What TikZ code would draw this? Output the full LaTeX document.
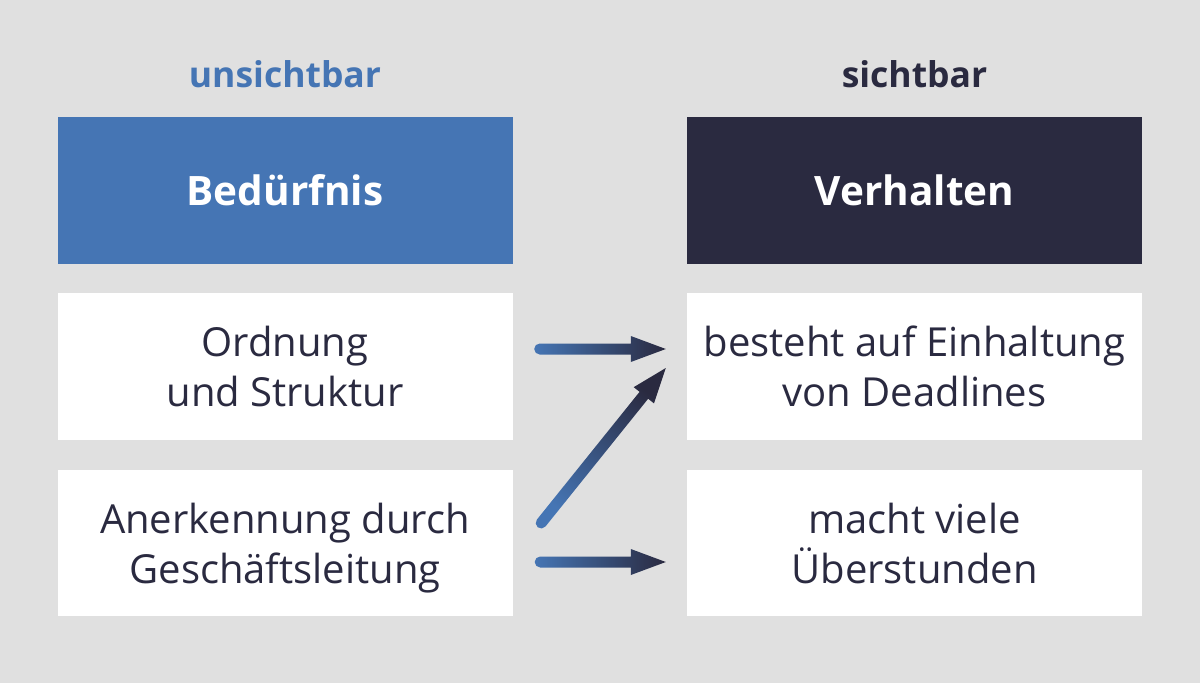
\documentclass[tikz,border=0pt]{standalone}
\usepackage{fontspec}
\setmainfont{Open Sans}
\usetikzlibrary{calc}
\definecolor{bg}{HTML}{E0E0E0}
\definecolor{ablue}{HTML}{4575B4}
\definecolor{anavy}{HTML}{2A2A40}
\tikzset{
  cellbox/.style={minimum width=455pt, minimum height=147pt, inner sep=0pt, align=center, text depth=0pt,
    font=\fontsize{40}{50}\selectfont, text=anavy},
  whitebox/.style={cellbox, fill=white},
  headbox/.style={cellbox, text=white, font=\fontsize{40.5}{48}\selectfont\bfseries},
  coltitle/.style={font=\fontsize{35.5}{40}\selectfont\bfseries, anchor=base},
}
\newcommand\gradarrow[2]{%
  \pgfmathanglebetweenpoints{\pgfpointanchor{#1}{center}}{\pgfpointanchor{#2}{center}}%
  \let\gaang\pgfmathresult
  \pgfpointdiff{\pgfpointanchor{#1}{center}}{\pgfpointanchor{#2}{center}}%
  \pgfgetlastxy{\gax}{\gay}%
  \pgfmathsetmacro\galen{veclen(\gax,\gay)}%
  \pgfmathsetmacro\gashade{90+\gaang}%
  \shade[left color=ablue, right color=anavy, shading angle=\gashade, shift={(#1)}, rotate=\gaang]
    (0,5.5) -- (\galen-35,5.5) -- (\galen-35,13) -- (\galen,0) -- (\galen-35,-13) -- (\galen-35,-5.5) -- (0,-5.5)
    arc[start angle=-90, end angle=-270, radius=5.5] -- cycle;
}
\begin{document}
\begin{tikzpicture}[x=1pt, y=-1pt]
\fill[bg] (0,0) rectangle (1200,683);
\useasboundingbox (0,0) rectangle (1200,683);

\node[coltitle, text=ablue] (tl) at (285,87) {unsichtbar};
\node[coltitle, text=anavy] (tr) at (914.5,87) {sichtbar};

\node[headbox, fill=ablue] (hl) at (285,190.5) {Bedürfnis};
\node[headbox, fill=anavy] (hr) at (914.5,190.5) {Verhalten};

\node[whitebox] (l1) at (285,366.5) {Ordnung\\und Struktur};
\node[whitebox, minimum height=146pt] (l2) at (285,543) {Anerkennung durch\\Geschäftsleitung};
\node[whitebox] (r1) at (914.5,366.5) {besteht auf Einhaltung\\von Deadlines};
\node[whitebox, minimum height=146pt] (r2) at (914.5,543) {macht viele\\Überstunden};

\coordinate (a1s) at ($(l1.east)+(27,-17.5)$);
\coordinate (a1e) at ($(r1.west)+(-21,-17.5)$);
\coordinate (a2s) at ($(l2.east)+(28.5,-20)$);
\coordinate (a2e) at ($(r1.west)+(-21,1.5)$);
\coordinate (a3s) at ($(l2.east)+(27.5,19)$);
\coordinate (a3e) at ($(r2.west)+(-21,19)$);

\gradarrow{a1s}{a1e}
\gradarrow{a2s}{a2e}
\gradarrow{a3s}{a3e}
\end{tikzpicture}
\end{document}
